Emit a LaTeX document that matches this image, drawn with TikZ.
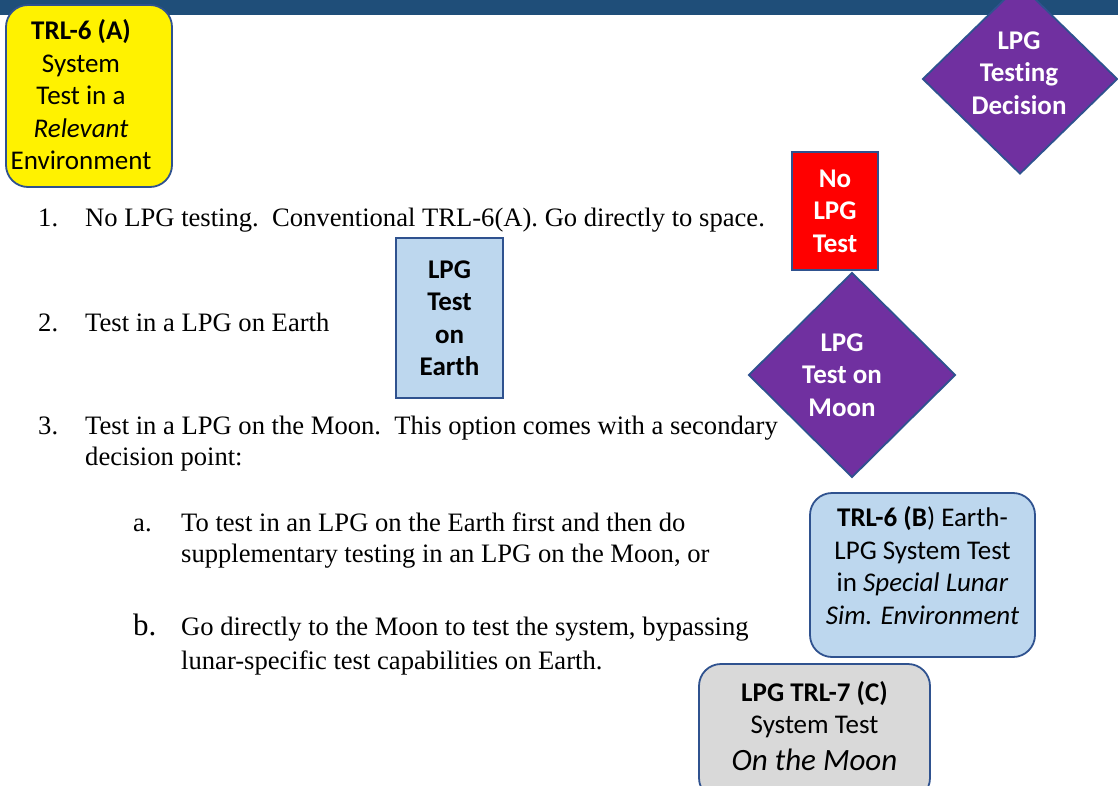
\documentclass[tikz,border=0pt]{standalone}
\usepackage{fontspec}
\setmainfont{Liberation Serif}
\newfontfamily\calfont[Ligatures=NoCommon]{Carlito}
\usetikzlibrary{shapes.geometric}
\definecolor{barblue}{HTML}{1F4E79}
\definecolor{edgeblue}{HTML}{2F528F}
\definecolor{purp}{HTML}{7030A0}
\definecolor{lblue}{HTML}{BDD7EE}
\definecolor{lgray}{HTML}{D9D9D9}
\begin{document}
\begin{tikzpicture}[x=1pt,y=-1pt,
  box/.style={draw=edgeblue,line width=1.8pt,align=center,inner sep=0pt,
    font=\calfont\fontsize{27}{32.5}\selectfont},
  rbox/.style={box,rounded corners=22pt},
  boldbox/.style={box,font=\calfont\bfseries\fontsize{27}{32.5}\selectfont},
  dia/.style={boldbox,diamond,fill=purp,text=white},
  lbl/.style={align=center,inner sep=0pt,font=\calfont\fontsize{27}{32.5}\selectfont},
  dlbl/.style={lbl,text=white,font=\calfont\bfseries\fontsize{27}{32.5}\selectfont},
  item/.style={anchor=base west,inner sep=0pt,font=\fontsize{26.6}{31}\selectfont}]
\useasboundingbox (0,0) rectangle (1118,786);
\clip (0,0) rectangle (1118,786);
\fill[barblue] (0,0) rectangle (1118,15);

\node[rbox,fill=yellow,minimum width=166pt,minimum height=182pt] (trla) at (89,96) {};
\node[lbl] (trlatext) at (81,95)
  {\textbf{TRL-6 (A)}\\System\\Test in a\\\textit{Relevant}\\Environment};
\node[dia,minimum width=195pt,minimum height=190pt] (dec) at (1020,79) {};
\node[dlbl] (dectext) at (1019,73) {LPG\\Testing\\Decision};
\node[boldbox,fill=red,text=white,minimum width=86pt,minimum height=118pt] (nolpg) at (835,211)
  {No\\LPG\\Test};
\node[boldbox,fill=lblue,minimum width=107pt,minimum height=160pt] (earth) at (449.5,318)
  {LPG\\Test\\on\\Earth};
\node[dia,minimum width=207pt,minimum height=205pt] (moon) at (852,375) {};
\node[dlbl] (moontext) at (842,375) {LPG\\Test on\\Moon};
\node[rbox,fill=lblue,minimum width=225pt,minimum height=164pt,text depth=19pt] (trlb) at (922.5,575)
  {\textbf{TRL-6 (B}) Earth-\\LPG System Test\\in \textit{Special Lunar}\\\textit{Sim. Environment}};
\node[rbox,fill=lgray,minimum width=231pt,minimum height=136pt,text depth=13pt] (trlc) at (814.5,732)
  {\textbf{LPG TRL-7 (C)}\\System Test\\[4pt]{\fontsize{31}{31}\selectfont\itshape On the Moon}};

\node[item] (n1) at (38,227) {1.};
\node[item] (t1) at (85,227) {No LPG testing.\ \ Conventional TRL-6(A). Go directly to space.};
\node[item] (n2) at (38,331) {2.};
\node[item] (t2) at (85,331) {Test in a LPG on Earth};
\node[item] (n3) at (38,434) {3.};
\node[item] (t3) at (85,434) {Test in a LPG on the Moon.\ \ This option comes with a secondary};
\node[item] (t3b) at (85,465) {decision point:};
\node[item] (na) at (133,531) {a.};
\node[item] (ta) at (181,531) {To test in an LPG on the Earth first and then do};
\node[item] (ta2) at (181,562) {supplementary testing in an LPG on the Moon, or};
\node[item,font=\fontsize{31}{31}\selectfont] (nb) at (133,635) {b.};
\node[item] (tb) at (181,635) {Go directly to the Moon to test the system, bypassing};
\node[item] (tb2) at (181,669) {lunar-specific test capabilities on Earth.};
\end{tikzpicture}
\end{document}
